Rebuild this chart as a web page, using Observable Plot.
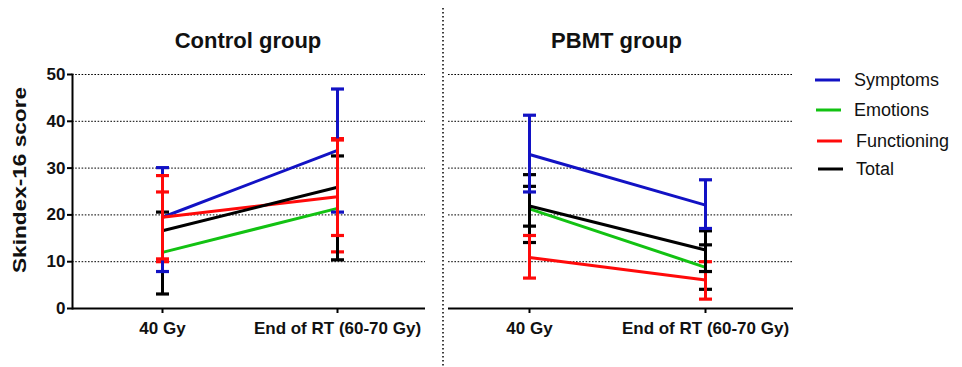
<!DOCTYPE html>
<html><head><meta charset="utf-8">
<script src="https://cdn.jsdelivr.net/npm/d3@7"></script>
<script src="https://cdn.jsdelivr.net/npm/@observablehq/plot@0.6"></script>
<style>
body{margin:0;background:#fff;}
#chart{position:relative;width:962px;height:367px;font-family:"Liberation Sans",Arial,sans-serif;overflow:hidden;}
#chart svg{position:absolute;top:0;}
</style></head><body><div id="chart"></div>
<script>
// ---- data ----
const series = ["Symptoms", "Emotions", "Functioning", "Total"];
const timepoints = ["40 Gy", "End of RT (60-70 Gy)"];
const groups = ["Control group", "PBMT group"];
const yTicks = [0, 10, 20, 30, 40, 50];

// central values per series: [40 Gy, End of RT]
const controlMedian = [[19.5, 33.8], [12.0, 21.4], [19.5, 23.9], [16.6, 25.9]];
const controlLow    = [[7.9, 20.6], [10.0, 12.1], [10.6, 15.6], [3.1, 10.4]];
const controlHigh   = [[30.1, 46.9], [24.9, 36.3], [28.4, 36.0], [20.6, 32.6]];

const pbmtMedian = [[32.9, 22.1], [21.3, 8.8], [10.9, 6.1], [21.9, 12.5]];
const pbmtLow    = [[24.9, 17.1], [14.1, 4.1], [6.5, 2.0], [17.6, 7.9]];
const pbmtHigh   = [[41.3, 27.5], [28.6, 13.6], [15.6, 10.0], [26.1, 16.6]];

// ---- styles ----
const seriesColors = ["#1212c4", "#12c212", "#ff0a0a", "#000000"];
const controlErrColors = ["#1212c4", "#ff0a0a", "#ff0a0a", "#000000"];
const pbmtErrColors = ["#1212c4", "#000000", "#ff0a0a", "#000000"];
const controlOrder = ["Emotions", "Total", "Symptoms", "Functioning"];
const pbmtOrder = ["Emotions", "Functioning", "Total", "Symptoms"];

function buildRows(median, low, high, errColors) {
  const rows = [];
  series.forEach((s, i) => {
    timepoints.forEach((t, j) => {
      rows.push({series: s, time: t, median: median[i][j], low: low[i][j], high: high[i][j],
                 color: seriesColors[i], errColor: errColors[i]});
    });
  });
  return rows;
}
const controlRows = buildRows(controlMedian, controlLow, controlHigh, controlErrColors);
const pbmtRows = buildRows(pbmtMedian, pbmtLow, pbmtHigh, pbmtErrColors);

const capSymbol = {
  draw(context, size) {
    const r = Math.sqrt(size / Math.PI);
    context.moveTo(-r, 0);
    context.lineTo(r, 0);
  }
};

function panel(rows, order, cfg) {
  const marks = [
    Plot.gridY(yTicks.slice(1), {stroke: "black", strokeOpacity: 1, strokeWidth: 1, strokeDasharray: "1.6,1.6"}),
    Plot.line(rows, {x: "time", y: "median", z: "series", stroke: "color", strokeWidth: 3}),
  ];
  for (const s of order) {
    const r = rows.filter(d => d.series === s);
    marks.push(Plot.ruleX(r, {x: "time", y1: "low", y2: "high", stroke: "errColor", strokeWidth: 3}));
    marks.push(Plot.dot(r, {x: "time", y: "low", stroke: "errColor", symbol: capSymbol, r: 6.5, strokeWidth: 3.2}));
    marks.push(Plot.dot(r, {x: "time", y: "high", stroke: "errColor", symbol: capSymbol, r: 6.5, strokeWidth: 3.2}));
  }
  marks.push(Plot.ruleY([0], {stroke: "black", strokeWidth: 2}));
  marks.push(Plot.axisX({label: null, tickSize: 5, tickPadding: 8, strokeWidth: 2, fontSize: 17, fontWeight: "bold", fill: "#111"}));
  if (cfg.yAxis) {
    marks.push(Plot.axisY(yTicks, {label: null, tickSize: 5, tickPadding: 2, strokeWidth: 2, fontSize: 17, fontWeight: "bold", fill: "#111"}));
    marks.push(Plot.frame({anchor: "left", stroke: "black", strokeWidth: 2}));
  }
  return Plot.plot({
    width: cfg.width, height: 367,
    marginLeft: cfg.marginLeft, marginRight: cfg.marginRight, marginTop: 74, marginBottom: 59,
    x: {type: "point", domain: timepoints, padding: cfg.padding, align: cfg.align, axis: null, label: null},
    y: {domain: [0, 50], axis: null, label: null},
    color: {type: "identity"},
    style: {fontFamily: "'Liberation Sans', Arial, sans-serif", color: "black", background: "transparent", overflow: "visible"},
    marks
  });
}

const chart = document.getElementById("chart");
const left = panel(controlRows, controlOrder, {width: 443, marginLeft: 72, marginRight: 18, padding: 0.503, align: 0.508, yAxis: true});
left.style.left = "0px";
chart.appendChild(left);
const right = panel(pbmtRows, pbmtOrder, {width: 519, marginLeft: 5, marginRight: 169, padding: 0.48, align: 0.479, yAxis: false});
right.style.left = "443px";
chart.appendChild(right);

// ---- overlay: titles, y label, separator, legend ----
const svg = d3.create("svg").attr("width", 962).attr("height", 367).style("left", "0px")
  .style("font-family", "'Liberation Sans', Arial, sans-serif");
svg.append("line").attr("x1", 443).attr("x2", 443).attr("y1", 8).attr("y2", 367)
  .attr("stroke", "black").attr("stroke-width", 1.5).attr("stroke-dasharray", "1.5,2.5");
const titleX = [248, 616.5];
groups.forEach((g, i) => {
  svg.append("text").attr("x", titleX[i]).attr("y", 48).attr("text-anchor", "middle")
    .attr("font-size", 22).attr("font-weight", "bold").attr("fill", "#111").text(g);
});
svg.append("text").attr("transform", "translate(26,180) rotate(-90)").attr("text-anchor", "middle")
  .attr("font-size", 18).attr("font-weight", "bold").attr("fill", "#111")
  .attr("textLength", 186).attr("lengthAdjust", "spacingAndGlyphs").text("Skindex-16 score");
const legendY = [80, 110, 141, 169];
series.forEach((s, i) => {
  svg.append("line").attr("x1", 815 + i).attr("x2", 840 + i).attr("y1", legendY[i]).attr("y2", legendY[i])
    .attr("stroke", seriesColors[i]).attr("stroke-width", 3);
  svg.append("text").attr("x", 854 + (i > 1 ? 2 : 0)).attr("y", legendY[i]).attr("dy", "0.35em")
    .attr("font-size", 18).attr("fill", "#111").text(s);
});
chart.appendChild(svg.node());
</script></body></html>
